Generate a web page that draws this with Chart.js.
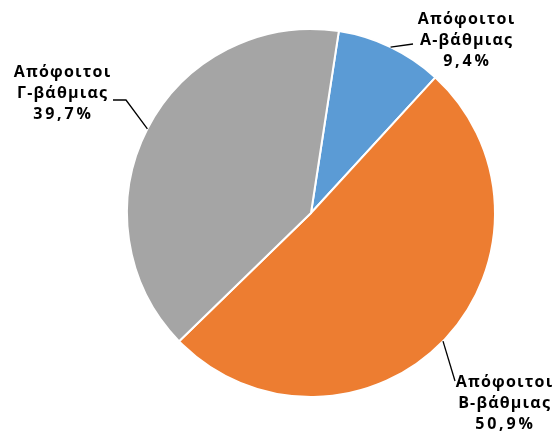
<!DOCTYPE html>
<html>
<head>
<meta charset="utf-8">
<script src="https://cdn.jsdelivr.net/npm/chart.js@4/dist/chart.umd.min.js"></script>
<style>
html,body{margin:0;padding:0;background:#fff;}
#wrap{width:555px;height:435px;position:relative;}
</style>
</head>
<body>
<div id="wrap"><canvas id="c" width="555" height="435"></canvas></div>
<script>
const categories = ['Απόφοιτοι Α-βάθμιας', 'Απόφοιτοι Β-βάθμιας', 'Απόφοιτοι Γ-βάθμιας'];
const labelLines = [['Απόφοιτοι', 'Α-βάθμιας'], ['Απόφοιτοι', 'Β-βάθμιας'], ['Απόφοιτοι', 'Γ-βάθμιας']];
const values = [9.4, 50.9, 39.7];
const colors = ['#5B9BD5', '#ED7D31', '#A5A5A5'];

// label layout (centre x, first-line middle y) and leader bend points
const labelPos = [
  {x: 466, y: 19, path: [[413, 44]]},
  {x: 504, y: 382, path: [[455, 381]]},
  {x: 62, y: 72, path: [[126, 100], [113, 100]]}
];

const fmt = v => v.toFixed(1).replace('.', ',') + '%';

const labelPlugin = {
  id: 'pieLabels',
  afterDatasetsDraw(chart) {
    const ctx = chart.ctx;
    const meta = chart.getDatasetMeta(0);
    ctx.save();
    meta.data.forEach((arc, i) => {
      const p = arc.getProps(['x', 'y', 'startAngle', 'endAngle', 'outerRadius'], true);
      const mid = (p.startAngle + p.endAngle) / 2;
      const ex = p.x + p.outerRadius * Math.cos(mid);
      const ey = p.y + p.outerRadius * Math.sin(mid);
      const lp = labelPos[i];
      ctx.beginPath();
      ctx.moveTo(ex, ey);
      lp.path.forEach(pt => ctx.lineTo(pt[0], pt[1]));
      ctx.strokeStyle = '#000';
      ctx.lineWidth = 1.3;
      ctx.stroke();
      ctx.fillStyle = '#000';
      ctx.font = 'bold 16px "Open Sans", sans-serif';
      ctx.textAlign = 'center';
      ctx.textBaseline = 'middle';
      const lines = labelLines[i].concat([fmt(values[i])]);
      lines.forEach((t, k) => {
        const sp = k === 2 ? 2.8 : 1.2;
        try { ctx.letterSpacing = sp + 'px'; } catch (e) {}
        ctx.fillText(t, lp.x + sp / 2, lp.y + k * 21);
      });
    });
    ctx.restore();
  }
};

new Chart(document.getElementById('c'), {
  type: 'pie',
  data: {
    labels: categories,
    datasets: [{
      data: values,
      backgroundColor: colors,
      borderColor: '#ffffff',
      borderWidth: 2
    }]
  },
  options: {
    responsive: false,
    animation: false,
    rotation: 8.7,
    layout: {padding: {top: 28, bottom: 37, left: 126, right: 59}},
    plugins: {legend: {display: false}, tooltip: {enabled: false}}
  },
  plugins: [labelPlugin]
});
</script>
</body>
</html>
